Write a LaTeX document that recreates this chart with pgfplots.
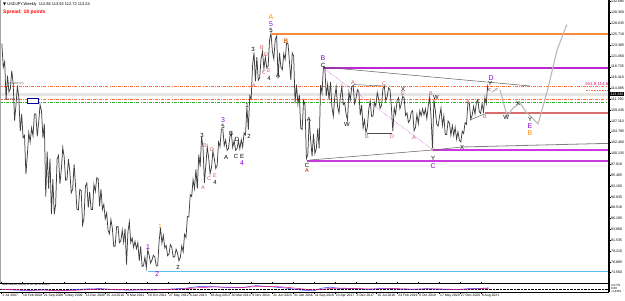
\documentclass[border=0pt]{standalone}
\usepackage{pgfplots}
\pgfplotsset{compat=1.18}
\usepackage{pgfplotstable}
\usepackage{fontspec}
\setmainfont{Liberation Sans}
\newfontfamily\dejavu{DejaVu Sans}
\usetikzlibrary{arrows.meta}
\definecolor{salm}{RGB}{205,92,92}
\definecolor{purp}{RGB}{148,0,211}
\definecolor{orng}{RGB}{255,140,0}
\definecolor{brwn}{RGB}{210,105,30}
\definecolor{lvlorange}{RGB}{245,140,60}
\definecolor{lvlorchid}{RGB}{200,60,220}
\definecolor{lvlmag}{RGB}{185,40,210}
\definecolor{coralc}{RGB}{255,110,60}
\definecolor{lgreen}{RGB}{40,180,40}
\definecolor{skyb}{RGB}{90,190,245}
\definecolor{lvlrosy}{RGB}{215,110,110}

\pgfplotstableread{
t p
0.2 123.7
0.7 118.6
1.2 119.8
1.7 111.6
2.2 116.8
2.7 113.3
3.2 114.0
3.7 117.9
4.2 115.1
4.7 107.2
5.2 110.6
5.7 114.7
6.2 112.0
6.7 104.9
7.2 108.6
7.7 103.5
8.2 104.0
8.7 95.7
9.2 99.8
9.7 104.6
10.2 102.6
10.7 105.6
11.2 103.9
11.7 108.6
12.2 108.6
12.7 103.8
13.2 106.8
13.7 110.6
14.2 109.2
14.7 103.5
15.2 106.5
15.7 90.9
16.2 100.5
16.7 92.6
17.2 99.0
17.7 87.1
18.2 94.6
18.7 87.1
19.2 89.2
19.7 98.9
20.2 99.7
20.7 93.6
21.2 96.7
21.7 101.4
22.2 99.4
22.7 94.4
23.2 94.5
23.7 98.9
24.2 96.2
24.7 91.7
25.2 92.5
25.7 97.8
26.2 93.4
26.7 88.2
27.2 88.0
27.7 92.4
28.2 92.2
28.7 84.8
29.2 86.3
29.7 93.1
30.2 93.8
30.7 88.5
31.2 91.9
31.7 88.1
32.2 88.1
32.7 93.5
33.2 92.0
33.7 94.9
34.2 94.7
34.7 88.8
35.2 92.5
35.7 88.1
36.2 89.2
36.7 86.1
37.2 87.4
37.7 83.6
38.2 82.9
38.7 86.0
39.2 84.1
39.7 80.2
40.2 80.3
40.7 84.4
41.2 84.5
41.7 81.0
42.2 81.4
42.7 83.7
43.2 81.1
43.7 84.0
44.2 76.3
44.7 83.3
45.2 85.5
45.7 81.0
46.2 82.0
46.7 80.0
47.2 81.3
47.7 79.7
48.2 81.0
48.7 77.1
49.2 80.2
49.7 75.9
50.2 76.1
50.7 77.9
51.2 75.6
51.7 79.5
52.2 78.3
52.7 76.6
53.2 77.3
53.7 78.3
54.2 77.9
54.7 76.0
55.2 76.1
55.7 81.2
56.2 84.2
56.7 80.9
57.2 82.6
57.7 79.9
58.2 80.4
58.7 78.2
59.2 78.6
59.7 80.6
60.2 80.0
60.7 77.9
61.2 78.0
61.7 79.6
62.2 78.8
62.7 77.1
63.2 77.8
63.7 80.3
64.2 79.0
64.7 82.8
65.2 82.1
65.7 86.6
66.2 86.5
66.7 91.3
67.2 90.9
67.7 94.5
68.2 92.6
68.7 96.7
69.2 92.6
69.7 99.9
70.2 97.3
70.7 103.7
71.2 101.5
71.7 93.8
72.2 97.6
72.7 101.5
73.2 99.2
73.7 95.8
74.2 97.1
74.7 100.6
75.2 99.0
75.7 96.9
76.2 97.6
76.7 102.6
77.2 101.6
77.7 105.4
78.2 105.4
78.7 101.8
79.2 103.0
79.7 100.8
80.2 101.2
80.7 103.8
81.2 104.4
81.7 101.4
82.2 102.9
82.7 100.8
83.2 101.1
83.7 102.8
84.2 101.1
84.7 103.1
85.2 101.5
85.7 104.5
86.2 104.1
86.7 110.1
87.2 105.2
87.7 112.5
88.2 111.8
88.7 119.0
89.2 121.8
89.7 115.6
90.2 120.8
90.7 115.8
91.2 116.4
91.7 120.5
92.2 122.0
92.7 118.3
93.2 120.8
93.7 118.5
94.2 118.9
94.7 124.5
95.2 125.9
95.7 122.0
96.2 120.4
96.7 124.6
97.2 125.3
97.7 116.2
98.2 121.7
98.7 118.6
99.2 118.1
99.7 121.5
100.2 120.3
100.7 123.8
101.2 123.7
101.7 119.9
102.2 115.9
102.7 121.7
103.2 121.0
103.7 110.9
104.2 114.9
104.7 110.7
105.2 112.7
105.7 105.5
106.2 105.3
106.7 111.5
107.2 110.5
107.7 99.0
108.2 99.9
108.7 107.5
109.2 103.0
109.7 99.5
110.2 104.3
110.7 100.1
111.2 101.2
111.7 105.5
112.2 101.2
112.7 114.8
113.2 113.1
113.7 118.7
114.2 118.6
114.7 112.5
115.2 115.0
115.7 111.6
116.2 115.5
116.7 110.1
117.2 108.1
117.7 112.2
118.2 114.4
118.7 110.2
119.2 108.8
119.7 112.4
120.2 114.5
120.7 110.6
121.2 111.0
121.7 108.6
122.2 107.3
122.7 113.3
123.2 111.6
123.7 114.5
124.2 114.7
124.7 110.8
125.2 111.9
125.7 113.8
126.2 113.4
126.7 108.3
127.2 110.5
127.7 105.6
128.2 107.3
128.7 104.6
129.2 105.7
129.7 109.6
130.2 111.4
130.7 108.1
131.2 108.1
131.7 111.1
132.2 110.3
132.7 113.2
133.2 111.8
133.7 109.8
134.2 110.4
134.7 114.0
135.2 114.6
135.7 111.4
136.2 112.3
136.7 114.2
137.2 113.8
137.7 110.0
138.2 104.9
138.7 109.9
139.2 108.5
139.7 111.5
140.2 112.1
140.7 109.7
141.2 110.8
141.7 112.4
142.2 112.0
142.7 108.3
143.2 108.8
143.7 106.8
144.2 107.2
144.7 109.0
145.2 109.3
145.7 105.0
146.2 105.7
146.7 108.5
147.2 106.5
147.7 109.3
148.2 108.2
148.7 109.7
149.2 108.4
149.7 109.7
150.2 107.6
150.7 110.3
151.2 112.2
151.7 107.9
152.2 101.2
152.7 111.7
153.2 109.4
153.7 106.4
154.2 106.0
154.7 108.1
155.2 109.9
155.7 106.1
156.2 108.2
156.7 104.2
157.2 104.2
157.7 107.1
158.2 106.6
158.7 104.0
159.2 106.1
159.7 104.0
160.2 105.7
160.7 103.2
161.2 104.8
161.7 102.9
162.2 102.6
162.7 104.9
163.2 104.4
163.7 106.7
164.2 106.4
164.7 110.97
165.2 110.9
165.7 107.5
166.2 108.3
166.7 110.2
167.2 108.6
167.7 111.1
168.2 111.7
168.7 109.1
169.2 108.7
169.7 110.8
170.2 109.1
170.7 112.1
171.2 110.8
171.6 114.5
171.9 113.7
}\price

\pgfplotstableread{
t m s
0 -0.5 -0.3
5 -1.5 -0.8
10 -2.0 -1.5
15 -1.0 -1.6
20 -2.5 -1.8
25 -1.0 -1.9
30 0.0 -1.0
35 0.5 -0.2
40 -1.0 -0.4
45 -1.5 -1.0
50 -1.0 -1.2
55 -1.0 -1.0
60 0.0 -0.6
65 1.0 0.3
70 3.5 1.8
75 3.0 2.8
80 2.0 2.5
85 2.0 2.0
90 4.5 3.2
95 3.0 3.6
100 1.5 2.6
105 -1.0 0.6
110 -2.5 -1.2
113 1.0 -0.8
116 2.5 0.8
120 0.5 1.2
125 0.5 0.6
130 -0.5 0.1
135 1.0 0.3
140 0.0 0.4
145 -0.5 -0.1
150 0.5 0.0
155 -0.5 0.1
160 -1.0 -0.5
165 0.5 -0.3
170 1.0 0.5
172 1.5 0.8
}\macd

\begin{document}
\begin{tikzpicture}[
  lb/.style={font=\fontsize{6}{6}\selectfont, text=black, inner sep=0pt},
  lp/.style={font=\fontsize{7}{7}\selectfont, text=purp, inner sep=0pt},
  ls/.style={font=\fontsize{5.5}{5.5}\selectfont, text=salm, inner sep=0pt},
  lo/.style={font=\fontsize{7}{7}\selectfont, text=orng, inner sep=0pt},
]
\useasboundingbox (0,0) rectangle (625bp,-301bp);
\begin{axis}[
  at={(0,0)}, anchor=north west,
  width=609bp, height=283bp, scale only axis,
  xmin=-0.45, xmax=214.5, ymin=72.35, ymax=133.04,
  axis line style={draw=none},
  xtick=\empty,
  ytick={74.56,76.885,79.21,81.535,83.86,86.185,88.51,90.835,93.16,95.485,97.81,100.135,102.46,104.785,107.11,109.435,111.76,114.085,116.41,118.735,121.06,123.385,125.71,128.035,130.36,132.685},
  yticklabel pos=right,
  ytick style={black, line width=0.4pt},
  major tick length=1.5bp,
  tick align=outside,
  yticklabel style={font=\fontsize{3.6}{3.6}\selectfont, anchor=west, inner sep=0.4bp},
  /pgf/number format/.cd, fixed, precision=3, zerofill, 1000 sep={}, assume math mode=true,
]
% horizontal levels
\addplot[draw=gray!20, line width=2.6bp] coordinates {(-0.45,112.78) (214.5,112.78)};
\addplot[draw=coralc, dash pattern=on 3bp off 1.2bp on 0.8bp off 1.2bp, line width=0.6bp] coordinates {(-0.45,114.60) (214.5,114.60)};
\addplot[draw=coralc, dash pattern=on 3bp off 1.2bp on 0.8bp off 1.2bp, line width=0.6bp] coordinates {(-0.45,111.81) (214.5,111.81)};
\addplot[draw=lgreen, dash pattern=on 3bp off 1.2bp on 0.8bp off 1.2bp, line width=0.6bp] coordinates {(-0.45,111.17) (214.5,111.17)};
\addplot[draw=lvlorange, line width=1.3bp] coordinates {(95.6,125.75) (214.5,125.75)};
\addplot[draw=lvlmag, line width=1.5bp] coordinates {(113.57,118.45) (214.5,118.45)};
\addplot[draw=lvlrosy, line width=1.1bp] coordinates {(170.75,108.81) (214.5,108.81)};
\addplot[draw=gray, line width=0.8bp] coordinates {(162.63,101.52) (214.5,102.3)};
\addplot[draw=lvlorchid, line width=1.1bp] coordinates {(152.4,100.88) (214.5,100.88)};
\addplot[draw=lvlorchid, line width=1.1bp] coordinates {(107.92,98.52) (214.5,98.52)};
\addplot[draw=skyb, line width=1.1bp] coordinates {(51.8,74.78) (214.5,74.78)};
\addplot[draw=coralc, densely dotted, line width=0.6bp] coordinates {(206.3,113.74) (214.5,113.74)};
% trend lines
\addplot[draw=gray!70!black, line width=0.5bp] coordinates {(113.57,118.66) (186.64,114.6)};
\addplot[draw=gray!70!black, line width=0.5bp] coordinates {(108.98,98.73) (152.4,100.88) (162.63,101.52)};
\addplot[draw=lvlorchid, densely dotted, line width=0.5bp] coordinates {(113.57,118.5) (152.4,100.88)};
\addplot[draw=black!70, line width=0.4bp] coordinates {(124.4,114.9) (135.1,114.6)};
\addplot[draw=black!70, line width=0.4bp] coordinates {(129.1,104.5) (137.9,104.5)};
\addplot[draw=black!70, line width=0.4bp] coordinates {(165.4,107.3) (170.5,108.6)};
% price
\addplot[draw=black!75, line width=0.75bp] table[x=t,y=p] {\price};
% projections
\addplot[draw=gray!55, line width=1.1bp, -{Stealth[length=3bp]}] coordinates {(173.22,113.31) (175.34,114.17)};
\addplot[draw=gray!55, line width=1.1bp, -{Stealth[length=3bp]}] coordinates {(176.05,113.74) (178.52,108.17) (180.64,109.88) (183.11,110.95) (185.23,109.03) (189.46,106.45) (192.99,114.17) (196.17,122.32) (199.7,127.9)};

% left-edge object labels
\draw[draw=blue!60!black, fill=white, line width=0.5bp] (axis cs:9.1,112.03) rectangle (axis cs:12.96,110.95);
\node[anchor=west, inner sep=0pt, font=\fontsize{3}{3}\selectfont, text=black!70] at (axis cs:2.3,115.0) {114.603 (H)};
\node[anchor=west, inner sep=0pt, font=\fontsize{3}{3}\selectfont, text=black!70] at (axis cs:1.2,111.55) {111.812 (L)};

% labels black
\node[lb] at (axis cs:62.38,75.79) {2};
\node[lb] at (axis cs:70.85,104.09) {3};
\node[lb] at (axis cs:75.44,94.0) {4};
\node[lb] at (axis cs:78.26,106.02) {5};
\node[lb] at (axis cs:79.32,99.38) {A};
\node[lb] at (axis cs:81.09,104.52) {B};
\node[lb] at (axis cs:82.85,99.59) {C};
\node[lb] at (axis cs:83.21,103.24) {D};
\node[lb] at (axis cs:84.97,99.59) {E};
\node[lb] at (axis cs:86.74,110.53) {1};
\node[lb] at (axis cs:87.44,103.88) {2};
\node[lb] at (axis cs:88.85,122.54) {3};
\node[lb] at (axis cs:94.5,116.3) {4};
\node[lb] at (axis cs:95.21,126.61) {5};
\node[lb] at (axis cs:97.68,116.96) {A};
\node[lb] at (axis cs:113.57,119.10) {C};
\node[lb] at (axis cs:108.6,107.53) {A};
\node[lb] at (axis cs:107.92,97.66) {C};
\node[lb] at (axis cs:122.04,106.45) {W};
\node[lb] at (axis cs:141.81,113.96) {X};
\node[lb] at (axis cs:153.46,112.24) {W};
\node[lb] at (axis cs:152.4,99.16) {Y};
\node[lb] at (axis cs:162.63,101.52) {X};
\node[lb] at (axis cs:172.52,115.24) {Y};
\node[lb] at (axis cs:178.17,107.95) {W};
\node[lb] at (axis cs:182.41,110.95) {X};
\node[lb] at (axis cs:186.64,107.53) {Y};
% purple
\node[lp] at (axis cs:51.79,80.07) {1};
\node[lp] at (axis cs:54.97,74.28) {2};
\node[lp] at (axis cs:78.26,107.31) {3};
\node[lp] at (axis cs:84.97,98.09) {4};
\node[lp] at (axis cs:95.21,127.9) {5};
\node[lp] at (axis cs:113.57,120.61) {B};
\node[lp] at (axis cs:152.4,97.45) {C};
\node[lp] at (axis cs:172.87,116.32) {D};
\node[lp] at (axis cs:186.64,106.02) {E};
% salmon
\node[ls] at (axis cs:71.2,92.73) {A};
\node[ls] at (axis cs:71.91,101.73) {B};
\node[ls] at (axis cs:73.32,94.66) {C};
\node[ls] at (axis cs:74.38,100.88) {D};
\node[ls] at (axis cs:75.44,95.4) {E};
\node[ls] at (axis cs:89.21,114.60) {A};
\node[ls] at (axis cs:92.03,122.75) {B};
\node[ls] at (axis cs:92.74,117.39) {C};
\node[ls] at (axis cs:93.44,121.25) {D};
\node[ls] at (axis cs:94.5,117.9) {E};
\node[ls, text=red!80!black] at (axis cs:107.92,96.37) {A};
\node[ls] at (axis cs:124.16,115.24) {A};
\node[ls] at (axis cs:129.1,103.66) {B};
\node[ls] at (axis cs:135.1,115.03) {C};
\node[ls] at (axis cs:137.92,103.66) {D};
\node[ls] at (axis cs:141.81,112.89) {E};
\node[ls] at (axis cs:145.69,103.45) {A};
\node[ls] at (axis cs:151.69,112.89) {B};
\node[ls] at (axis cs:152.4,100.87) {C};
\node[ls] at (axis cs:164.75,111.17) {A};
\node[ls] at (axis cs:170.75,107.95) {B};
\node[ls] at (axis cs:172.52,113.74) {c};
% orange
\node[lo, font=\fontsize{6}{6}\selectfont] at (axis cs:56.03,84.58) {1};
\node[lo] at (axis cs:95.21,129.4) {A};
\node[lo, text=brwn, font=\bfseries\fontsize{6.5}{6.5}\selectfont] at (axis cs:100.5,124.25) {B};
\node[lo] at (axis cs:186.64,104.52) {B};
% texts
\node[anchor=west, inner sep=0pt, font=\fontsize{4.5}{4.5}\selectfont, text=magenta!70!purple] at (axis cs:206,115.1) {261.8 114.60};
\node[anchor=north west, inner sep=0pt, font=\fontsize{4}{4}\selectfont] at (rel axis cs:0.005,0.99) {{\dejavu ▼} USDJPY,Weekly\ \ 112.86 113.92 112.72 113.24};
\node[anchor=north west, inner sep=0pt, font=\bfseries\fontsize{5}{5}\selectfont, text=red] at (rel axis cs:0.005,0.965) {Spread: 18 points};
\end{axis}
% frame
\draw[gray!70, line width=0.8bp] (0,0) -- (0,-283bp);
\draw[black, line width=1.2bp] (609bp,0) -- (609bp,-292bp);
\draw[black, line width=1bp] (0,-283bp) -- (609bp,-283bp);
\draw[black, line width=0.6bp] (0,-292bp) -- (609bp,-292bp);
\node[fill=black, text=white, inner sep=0.5bp, anchor=west, font=\fontsize{3.6}{3.6}\selectfont] at (610bp,-94bp) {113.240};

\begin{axis}[
  at={(0,-283bp)}, anchor=north west,
  width=609bp, height=9bp, scale only axis,
  xmin=-0.45, xmax=214.5, ymin=-4, ymax=8,
  axis line style={draw=none},
  ytick=\empty,
  xtick={0,7.359,14.718,22.077,29.436,36.795,44.154,51.513,58.872,66.231,73.59,80.949,88.308,95.667,103.026,110.385,117.744,125.103,132.462,139.821,147.18,154.539,161.898,169.257},
  xticklabels={1 Jul 2007,10 Feb 2008,21 Sep 2008,3 May 2009,13 Dec 2009,25 Jul 2010,6 Mar 2011,16 Oct 2011,27 May 2012,6 Jan 2013,18 Aug 2013,30 Mar 2014,9 Nov 2014,21 Jun 2015,31 Jan 2016,11 Sep 2016,23 Apr 2017,3 Dec 2017,15 Jul 2018,24 Feb 2019,6 Oct 2019,17 May 2020,27 Dec 2020,8 Aug 2021},
  xticklabel style={font=\fontsize{3.4}{3.4}\selectfont, anchor=north west, inner sep=0.5bp, xshift=0.3bp},
  xtick style={black, line width=0.3bp},
  major tick length=1.5bp, tick align=outside,
  clip=true,
]
\addplot[draw=black, densely dotted, line width=0.4bp] coordinates {(-0.45,0) (214.5,0)};
\addplot[draw=blue!80, line width=0.5bp] table[x=t,y=m] {\macd};
\addplot[draw=magenta!80!purple, line width=0.5bp] table[x=t,y=s] {\macd};
\node[anchor=north west, inner sep=0pt, font=\fontsize{3.5}{3.5}\selectfont] at (rel axis cs:0.003,0.98) {MACD(12,26,9) 0.4749 0.1363};
\end{axis}
\node[anchor=west, inner sep=0pt, font=\fontsize{3}{3}\selectfont] at (611bp,-285bp) {4.3779};
\node[anchor=west, inner sep=0pt, font=\fontsize{3}{3}\selectfont] at (611bp,-288.5bp) {0.00};
\node[anchor=west, inner sep=0pt, font=\fontsize{3}{3}\selectfont] at (611bp,-291.5bp) {-4.4461};
\end{tikzpicture}
\end{document}
